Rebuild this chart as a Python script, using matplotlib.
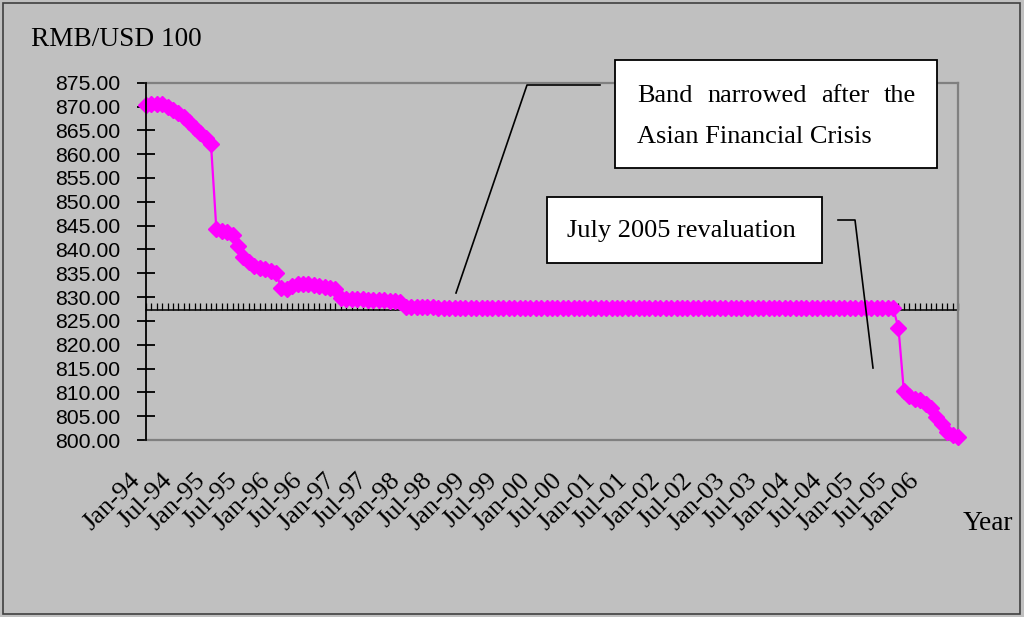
import matplotlib
matplotlib.use("Agg")
import matplotlib.pyplot as plt
from matplotlib.ticker import FormatStrFormatter
from matplotlib.transforms import Affine2D, ScaledTranslation
from matplotlib.patches import Rectangle
from matplotlib.lines import Line2D

# ---------------- data (RMB per 100 USD, monthly, Jan-94 .. Jul-06) ----------------
rate_1994 = [870.3, 870.5, 870.6, 870.5, 870.0, 869.3, 868.6, 867.8, 866.7, 865.4, 864.4, 863.3]
rate_1995 = [862.2, 844.2, 843.9, 843.6, 843.0, 840.8, 838.5, 837.3, 836.6, 836.1, 835.8, 835.4]
rate_1996 = [835.0, 832.0, 831.6, 832.4, 832.7, 832.8, 832.7, 832.6, 832.4, 832.2, 832.0, 831.8]
rate_1997 = [829.8, 829.6, 829.6, 829.5, 829.5, 829.4, 829.4, 829.3, 829.3, 829.2, 829.1, 829.0]
rate_1998 = [827.9, 827.9, 827.9, 827.9, 827.9, 827.9, 827.8, 827.8, 827.8, 827.8, 827.8, 827.8]
rate_1999 = [827.8, 827.8, 827.8, 827.8, 827.8, 827.8, 827.8, 827.8, 827.8, 827.8, 827.8, 827.8]
rate_2000 = [827.8, 827.8, 827.8, 827.8, 827.8, 827.8, 827.8, 827.8, 827.8, 827.8, 827.8, 827.7]
rate_2001 = [827.7, 827.7, 827.7, 827.7, 827.7, 827.7, 827.7, 827.7, 827.7, 827.7, 827.7, 827.7]
rate_2002 = [827.7, 827.7, 827.7, 827.7, 827.7, 827.7, 827.7, 827.7, 827.7, 827.7, 827.7, 827.7]
rate_2003 = [827.7, 827.7, 827.7, 827.7, 827.7, 827.7, 827.7, 827.7, 827.7, 827.7, 827.7, 827.7]
rate_2004 = [827.7, 827.7, 827.7, 827.7, 827.7, 827.7, 827.7, 827.7, 827.7, 827.7, 827.7, 827.7]
rate_2005_pre = [827.7, 827.7, 827.7, 827.7, 827.7, 827.7, 827.7]
rate_2005_post = [823.6, 810.2, 809.2, 808.7, 808.3, 807.6]
rate_2006 = [806.7, 804.9, 803.4, 801.6, 801.1, 800.6]

rate = (rate_1994 + rate_1995 + rate_1996 + rate_1997 + rate_1998 + rate_1999 +
        rate_2000 + rate_2001 + rate_2002 + rate_2003 + rate_2004 +
        rate_2005_pre + rate_2005_post + rate_2006)

x_labels = ["Jan-94", "Jul-94", "Jan-95", "Jul-95", "Jan-96", "Jul-96", "Jan-97", "Jul-97",
            "Jan-98", "Jul-98", "Jan-99", "Jul-99", "Jan-00", "Jul-00", "Jan-01", "Jul-01",
            "Jan-02", "Jul-02", "Jan-03", "Jul-03", "Jan-04", "Jul-04", "Jan-05", "Jul-05",
            "Jan-06"]
label_step = 6  # months between labels

y_min, y_max, y_step = 800, 875, 5
axis_cross = 827.2   # where the category axis crosses the value axis

# ---------------- styling ----------------
BG = "#C0C0C0"
MAGENTA = "#FF00FF"
SANS = ["Liberation Sans", "DejaVu Sans"]
SERIF = ["Liberation Serif", "DejaVu Serif"]

W, H = 1024, 617
fig = plt.figure(figsize=(W / 100, H / 100), dpi=100, facecolor=BG)
px = Affine2D().scale(1 / W, -1 / H).translate(0, 1) + fig.transFigure

L, R, T, B = 146, 958, 82.7, 440
ax = fig.add_axes([L / W, 1 - B / H, (R - L) / W, (B - T) / H])
ax.set_facecolor(BG)

xs = list(range(len(rate)))
ax.plot(xs, rate, color=MAGENTA, lw=1.6, marker="D", ms=8.3, mfc=MAGENTA, mec=MAGENTA,
        mew=1.0, zorder=3, clip_on=False)

ax.set_xlim(0, len(rate) - 1)
ax.set_ylim(y_min, y_max)

# y axis
ax.set_yticks(list(range(y_min, y_max + 1, y_step)))
ax.yaxis.set_major_formatter(FormatStrFormatter("%.2f"))
ax.tick_params(axis="y", direction="inout", length=13, width=1.3, color="black", pad=12,
               labelsize=15.3)
for t in ax.get_yticklabels():
    t.set_family(SANS)

# x labels along the bottom
ax.set_xticks(list(range(0, label_step * len(x_labels), label_step)))
ax.set_xticklabels(x_labels, rotation=45, ha="right", va="baseline",
                   rotation_mode="anchor", family=SERIF, fontsize=19)
ax.tick_params(axis="x", length=0, pad=29.5)
shift = ScaledTranslation(-5 / 100, 0, fig.dpi_scale_trans)
for t in ax.get_xticklabels():
    t.set_transform(t.get_transform() + shift)

# spines
for s in ("top", "right", "bottom"):
    ax.spines[s].set_color("#808080")
    ax.spines[s].set_linewidth(1.6)
ax.spines["left"].set_color("black")
ax.spines["left"].set_linewidth(1.3)
ax.spines["left"].set_zorder(4)

# category axis crossing line with tick marks
sec = ax.secondary_xaxis((axis_cross - y_min) / (y_max - y_min))
sec.set_xticks(xs)
sec.set_xticklabels([])
sec.tick_params(axis="x", direction="in", length=5.2, width=0.9, color="black")
sec.spines["bottom"].set_linewidth(1.1)
sec.spines["bottom"].set_color("black")
sec.set_zorder(1)

# titles
fig.text(31, 46, "RMB/USD 100", transform=px, family=SERIF, fontsize=19.6,
         ha="left", va="baseline")
fig.text(963, 530, "Year", transform=px, family=SERIF, fontsize=19.6,
         ha="left", va="baseline")

# annotation boxes
fig.add_artist(Rectangle((615, 60), 322, 108, transform=px, fc="white", ec="black", lw=1.3))
fig.add_artist(Rectangle((547, 197), 275, 66, transform=px, fc="white", ec="black", lw=1.3))

ann = dict(transform=px, family=SERIF, fontsize=19, va="baseline")
fig.text(637, 102, "Band", ha="left", **ann)
fig.text(707, 102, "narrowed", ha="left", **ann)
fig.text(821, 102, "after", ha="left", **ann)
fig.text(916, 102, "the", ha="right", **ann)
fig.text(637, 143, "Asian Financial Crisis", ha="left", **ann)
fig.text(567, 237, "July 2005 revaluation", ha="left", **ann)

fig.add_artist(Line2D([600, 527, 456], [85, 85, 293], transform=px, color="black", lw=1.2))
fig.add_artist(Line2D([838, 855, 873], [220, 220, 368], transform=px, color="black", lw=1.2))

# outer frame
fig.add_artist(Rectangle((3, 3), 1017, 611, transform=px, fill=False, ec="#404040", lw=1.2))

fig.savefig("out.png", dpi=100, facecolor=BG)
